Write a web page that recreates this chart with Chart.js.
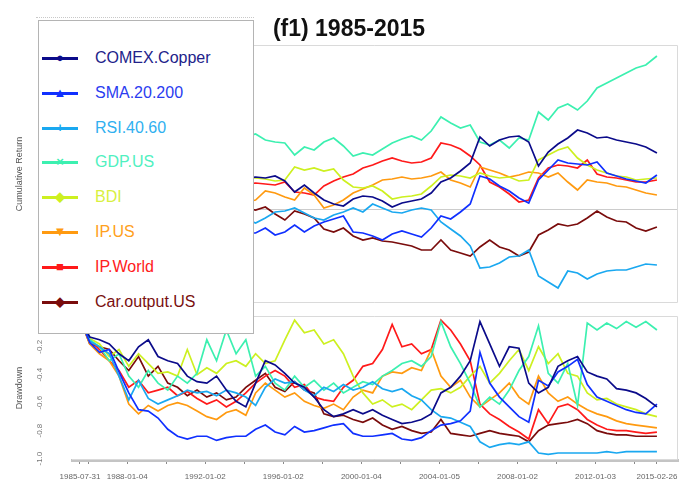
<!DOCTYPE html>
<html>
<head>
<meta charset="utf-8">
<script src="https://cdn.jsdelivr.net/npm/chart.js@4.4.1/dist/chart.umd.min.js"></script>
<style>
  body { margin: 0; background: #fff; font-family: "Liberation Sans", Arial, sans-serif; }
  #wrap { position: relative; width: 694px; height: 485px; overflow: hidden; }
  canvas { position: absolute; left: 0; }
  #title { position: absolute; left: 0; width: 698px; top: 15px; line-height: 26px; text-align: center;
           font-weight: bold; font-size: 23px; color: #111; }
  #dots { position: absolute; left: 36px; top: 17px; width: 218px; border-top: 1px dotted #c8c8c8; }
  #legend { position: absolute; left: 38px; top: 20px; width: 214px; height: 312px;
            border: 1px solid #b4b4b4; background: #fff; }
  .item { position: absolute; left: 0; width: 100%; height: 20px; }
  .ln { position: absolute; left: 3px; top: 9px; width: 36px; height: 3px; }
  .mk { position: absolute; left: 11px; width: 20px; top: 0; line-height: 20px; text-align: center;
        font-size: 13px; font-weight: bold; }
  .tx { position: absolute; left: 56px; top: 0; line-height: 20px; font-size: 16px; }
</style>
</head>
<body>
<div id="wrap">
  <canvas id="topChart" width="694" height="310" style="top:0"></canvas>
  <canvas id="ddChart" width="694" height="175" style="top:310px"></canvas>
  <div id="title">(f1) 1985-2015</div>
  <div id="dots"></div>
  <div id="legend"></div>
</div>
<script>
// half-year steps, decimal years
const dates = [1985.58, 1986.08, 1986.58, 1987.08, 1987.58, 1988.08, 1988.58, 1989.08, 1989.58, 1990.08,
  1990.58, 1991.08, 1991.58, 1992.08, 1992.58, 1993.08, 1993.58, 1994.08, 1994.58, 1995.08,
  1995.58, 1996.08, 1996.58, 1997.08, 1997.58, 1998.08, 1998.58, 1999.08, 1999.58, 2000.08,
  2000.58, 2001.08, 2001.58, 2002.08, 2002.58, 2003.08, 2003.58, 2004.08, 2004.58, 2005.08,
  2005.58, 2006.08, 2006.58, 2007.08, 2007.58, 2008.08, 2008.58, 2009.08, 2009.58, 2010.08,
  2010.58, 2011.08, 2011.58, 2012.08, 2012.58, 2013.08, 2013.58, 2014.08, 2014.58, 2015.15];

const seriesNames = ['COMEX.Copper', 'SMA.20.200', 'RSI.40.60', 'GDP.US', 'BDI', 'IP.US', 'IP.World', 'Car.output.US'];
const lineColors = ['#0b0b8a', '#1030ff', '#1aa8f0', '#3cf0b0', '#cdf020', '#ff9a10', '#ff1a1a', '#7a0c0c'];
const textColors = ['#22228a', '#2a3cf0', '#30b0f0', '#50f0c0', '#d8f040', '#ffa020', '#ff2020', '#7a1010'];
const markers = ['\u25CF', '\u25B2', '+', '\u00D7', '\u25C6', '\u25BC', '\u25A0', '\u25C6'];

// cumulative return
const cumCopper = [0, 0.05, 0.12, 0.08, 0.15, 0.20, 0.18, 0.25, 0.22, 0.30, 0.28, 0.35, 0.30, 0.26, 0.32, 0.29, 0.34, 0.31,
  0.32, 0.31, 0.33, 0.28, 0.17, 0.24, 0.16, 0.09, 0.05, 0.03, 0.10, 0.13, 0.12, 0.08, 0.02, 0.06, 0.08, 0.10, 0.16, 0.27, 0.31, 0.38, 0.46,
  0.72, 0.63, 0.69, 0.72, 0.73, 0.67, 0.43, 0.57, 0.65, 0.71, 0.79, 0.76, 0.71, 0.72, 0.69, 0.67, 0.65, 0.62, 0.56];
const cumSma = [0, -0.04, -0.08, -0.12, -0.10, -0.15, -0.20, -0.18, -0.22, -0.25, -0.21, -0.26, -0.23, -0.27, -0.22, -0.25, -0.20, -0.24,
  -0.24, -0.19, -0.26, -0.23, -0.16, -0.23, -0.17, -0.13, -0.10, -0.07, -0.23, -0.24, -0.27, -0.31, -0.25, -0.22, -0.25, -0.28, -0.19, -0.07, -0.10, -0.03, 0.05,
  0.33, 0.30, 0.23, 0.18, 0.11, 0.06, 0.29, 0.39, 0.49, 0.46, 0.45, 0.44, 0.47, 0.36, 0.33, 0.30, 0.28, 0.26, 0.34];
const cumRsi = [0, 0.03, -0.02, 0.05, 0.02, -0.03, 0.04, 0.01, -0.04, -0.01, 0.03, -0.05, -0.02, -0.06, -0.03, -0.08, -0.05, -0.10,
  -0.14, -0.09, -0.03, -0.02, 0.01, -0.04, -0.09, -0.11, -0.06, -0.03, 0.01, -0.03, 0.05, 0.01, -0.03, -0.04, -0.01, 0.01, -0.01, -0.13, -0.20, -0.27, -0.37,
  -0.59, -0.58, -0.54, -0.48, -0.47, -0.41, -0.67, -0.73, -0.79, -0.62, -0.64, -0.70, -0.65, -0.62, -0.61, -0.61, -0.58, -0.55, -0.56];
const cumGdp = [0, 0.05, 0.10, 0.12, 0.18, 0.22, 0.28, 0.30, 0.35, 0.40, 0.42, 0.48, 0.52, 0.55, 0.60, 0.63, 0.68, 0.72,
  0.75, 0.69, 0.67, 0.66, 0.54, 0.62, 0.59, 0.67, 0.71, 0.63, 0.53, 0.56, 0.54, 0.60, 0.66, 0.70, 0.73, 0.69, 0.78, 0.92, 0.86, 0.81, 0.84,
  0.67, 0.64, 0.69, 0.61, 0.71, 0.69, 0.97, 0.89, 1.01, 1.05, 0.99, 1.08, 1.21, 1.26, 1.31, 1.36, 1.41, 1.44, 1.53];
const cumBdi = [0, 0.06, 0.02, 0.10, 0.15, 0.08, 0.12, 0.20, 0.16, 0.22, 0.18, 0.25, 0.21, 0.27, 0.24, 0.30, 0.26, 0.31,
  0.31, 0.30, 0.28, 0.29, 0.42, 0.39, 0.41, 0.38, 0.40, 0.29, 0.22, 0.21, 0.23, 0.18, 0.10, 0.12, 0.13, 0.15, 0.23, 0.32, 0.34, 0.33, 0.31,
  0.36, 0.33, 0.31, 0.32, 0.28, 0.29, 0.49, 0.54, 0.59, 0.62, 0.51, 0.44, 0.39, 0.36, 0.33, 0.32, 0.29, 0.30, 0.31];
const cumIpUs = [0, 0.04, 0.10, 0.06, 0.12, 0.09, 0.15, 0.11, 0.05, 0.09, 0.03, 0.07, 0.02, 0.06, 0.01, 0.05, 0.03, 0.07,
  0.09, 0.18, 0.16, 0.12, 0.09, 0.21, 0.14, 0.01, 0.04, 0.09, 0.16, 0.20, 0.24, 0.29, 0.30, 0.32, 0.30, 0.31, 0.33, 0.37, 0.29, 0.26, 0.22,
  0.42, 0.39, 0.36, 0.32, 0.34, 0.37, 0.36, 0.32, 0.36, 0.27, 0.19, 0.29, 0.27, 0.26, 0.23, 0.22, 0.19, 0.16, 0.14];
const cumIpWorld = [0, 0.05, 0.03, 0.09, 0.06, 0.12, 0.10, 0.15, 0.12, 0.18, 0.14, 0.20, 0.17, 0.22, 0.19, 0.24, 0.21, 0.25,
  0.26, 0.25, 0.24, 0.27, 0.17, 0.16, 0.14, 0.23, 0.28, 0.32, 0.35, 0.41, 0.44, 0.48, 0.51, 0.48, 0.46, 0.47, 0.51, 0.66, 0.64, 0.60, 0.53,
  0.44, 0.27, 0.22, 0.15, 0.07, 0.09, 0.31, 0.41, 0.44, 0.43, 0.41, 0.49, 0.35, 0.32, 0.31, 0.29, 0.27, 0.27, 0.29];
const cumCar = [0, 0.03, -0.02, 0.04, 0.01, 0.06, 0.02, -0.01, 0.03, 0.00, 0.04, 0.01, -0.03, 0.02, -0.01, 0.03, 0.00, 0.01,
  -0.01, 0.02, -0.05, -0.11, -0.02, -0.05, -0.09, -0.20, -0.23, -0.19, -0.27, -0.31, -0.29, -0.32, -0.33, -0.35, -0.37, -0.41, -0.41, -0.31, -0.41, -0.44, -0.47,
  -0.38, -0.31, -0.38, -0.41, -0.47, -0.43, -0.26, -0.21, -0.15, -0.17, -0.15, -0.09, -0.02, -0.08, -0.12, -0.13, -0.19, -0.22, -0.18];

// drawdown
const ddCopper = [0, -0.13, -0.15, -0.18, -0.25, -0.30, -0.20, -0.15, -0.27, -0.30,
  -0.32, -0.41, -0.45, -0.46, -0.41, -0.51, -0.59, -0.63, -0.46, -0.30,
  -0.33, -0.39, -0.46, -0.49, -0.56, -0.65, -0.70, -0.68, -0.65, -0.68,
  -0.65, -0.69, -0.72, -0.75, -0.74, -0.72, -0.68, -0.53, -0.49, -0.41,
  -0.30, -0.02, -0.18, -0.34, -0.20, -0.21, -0.46, -0.53, -0.49, -0.34,
  -0.30, -0.27, -0.38, -0.41, -0.43, -0.50, -0.51, -0.53, -0.57, -0.63];
const ddSma = [0, -0.17, -0.24, -0.22, -0.38, -0.53, -0.65, -0.66, -0.71, -0.79,
  -0.84, -0.86, -0.84, -0.84, -0.87, -0.85, -0.84, -0.84, -0.79, -0.76,
  -0.81, -0.83, -0.77, -0.81, -0.80, -0.78, -0.76, -0.75, -0.82, -0.84,
  -0.84, -0.83, -0.82, -0.86, -0.87, -0.85, -0.80, -0.76, -0.75, -0.73,
  -0.66, -0.24, -0.46, -0.56, -0.63, -0.70, -0.74, -0.44, -0.48, -0.38,
  -0.34, -0.29, -0.47, -0.56, -0.59, -0.62, -0.65, -0.67, -0.68, -0.61];
const ddRsi = [0, -0.16, -0.20, -0.25, -0.41, -0.58, -0.44, -0.57, -0.61, -0.58,
  -0.55, -0.51, -0.53, -0.52, -0.55, -0.51, -0.53, -0.56, -0.62, -0.49,
  -0.43, -0.46, -0.45, -0.51, -0.55, -0.49, -0.52, -0.47, -0.51, -0.49,
  -0.45, -0.50, -0.52, -0.50, -0.55, -0.58, -0.65, -0.70, -0.71, -0.74,
  -0.77, -0.88, -0.92, -0.90, -0.89, -0.90, -0.88, -0.96, -0.97, -0.96,
  -0.96, -0.96, -0.96, -0.96, -0.95, -0.96, -0.95, -0.95, -0.95, -0.95];
const ddGdp = [0, -0.15, -0.20, -0.30, -0.25, -0.41, -0.49, -0.37, -0.46, -0.51,
  -0.41, -0.46, -0.39, -0.15, -0.30, -0.08, -0.25, -0.15, -0.41, -0.34,
  -0.46, -0.51, -0.41, -0.49, -0.44, -0.51, -0.46, -0.53, -0.49, -0.45,
  -0.47, -0.41, -0.37, -0.32, -0.30, -0.34, -0.27, -0.02, -0.20, -0.32,
  -0.46, -0.63, -0.56, -0.61, -0.51, -0.37, -0.27, -0.05, -0.39, -0.46,
  -0.32, -0.62, -0.03, -0.08, -0.03, -0.07, -0.02, -0.06, -0.02, -0.08];
const ddBdi = [0, -0.14, -0.18, -0.27, -0.22, -0.34, -0.25, -0.32, -0.39, -0.38,
  -0.41, -0.22, -0.40, -0.35, -0.39, -0.32, -0.30, -0.34, -0.25, -0.32,
  -0.30, -0.15, -0.01, -0.10, -0.08, -0.18, -0.15, -0.25, -0.41, -0.53,
  -0.61, -0.58, -0.63, -0.61, -0.65, -0.58, -0.51, -0.50, -0.53, -0.49,
  -0.41, -0.34, -0.46, -0.39, -0.30, -0.22, -0.37, -0.20, -0.32, -0.25,
  -0.39, -0.41, -0.53, -0.58, -0.57, -0.61, -0.63, -0.65, -0.68, -0.70];
const ddIpUs = [0, -0.18, -0.25, -0.30, -0.41, -0.61, -0.68, -0.62, -0.66, -0.62,
  -0.60, -0.62, -0.66, -0.70, -0.72, -0.67, -0.65, -0.69, -0.53, -0.46,
  -0.51, -0.56, -0.53, -0.59, -0.62, -0.64, -0.61, -0.65, -0.56, -0.51,
  -0.53, -0.41, -0.38, -0.39, -0.35, -0.37, -0.22, -0.41, -0.49, -0.44,
  -0.56, -0.63, -0.58, -0.53, -0.46, -0.56, -0.61, -0.41, -0.53, -0.59,
  -0.56, -0.61, -0.65, -0.68, -0.70, -0.73, -0.75, -0.76, -0.77, -0.78];
const ddIpWorld = [0, -0.15, -0.22, -0.30, -0.37, -0.49, -0.44, -0.53, -0.51, -0.49,
  -0.55, -0.52, -0.57, -0.61, -0.58, -0.63, -0.59, -0.53, -0.46, -0.41,
  -0.37, -0.41, -0.49, -0.47, -0.56, -0.58, -0.59, -0.49, -0.44, -0.34,
  -0.32, -0.22, -0.04, -0.20, -0.18, -0.25, -0.22, -0.01, -0.08, -0.18,
  -0.30, -0.61, -0.68, -0.72, -0.77, -0.81, -0.86, -0.65, -0.75, -0.63,
  -0.61, -0.65, -0.72, -0.76, -0.79, -0.80, -0.80, -0.81, -0.82, -0.81];
const ddCar = [0, -0.18, -0.20, -0.22, -0.30, -0.37, -0.27, -0.41, -0.34, -0.46,
  -0.49, -0.55, -0.51, -0.56, -0.53, -0.58, -0.56, -0.49, -0.44, -0.39,
  -0.49, -0.52, -0.45, -0.51, -0.53, -0.68, -0.70, -0.69, -0.72, -0.74,
  -0.71, -0.76, -0.79, -0.77, -0.80, -0.82, -0.81, -0.72, -0.82, -0.83,
  -0.84, -0.82, -0.80, -0.82, -0.83, -0.84, -0.88, -0.80, -0.76, -0.75,
  -0.74, -0.72, -0.75, -0.80, -0.82, -0.83, -0.83, -0.84, -0.84, -0.84];

const cumSeries = [cumCopper, cumSma, cumRsi, cumGdp, cumBdi, cumIpUs, cumIpWorld, cumCar];
const ddSeries = [ddCopper, ddSma, ddRsi, ddGdp, ddBdi, ddIpUs, ddIpWorld, ddCar];

// x axis ticks (every two years) and the dated labels
const xTickVals = [1985.58, 1986, 1988, 1990, 1992, 1994, 1996, 1998, 2000, 2002, 2004, 2006, 2008, 2010, 2012, 2014, 2015.15];
const xLabelVals = [1985.58, 1988, 1992, 1996, 2000, 2004, 2008, 2012, 2015.15];
const xLabelTexts = ['1985-07-31', '1988-01-04', '1992-01-02', '1996-01-02', '2000-01-04', '2004-01-05', '2008-01-02', '2012-01-03', '2015-02-26'];
const ddTickVals = [-0.2, -0.4, -0.6, -0.8, -1.0];
const ddTickTexts = ['-0.2', '-0.4', '-0.6', '-0.8', '-1.0'];

const xMin = 1985.17, xMax = 2016.23;

function makeSets(list) {
  return list.map((vals, k) => ({
    label: seriesNames[k],
    data: vals.map((v, i) => ({ x: dates[i], y: v })),
    borderColor: lineColors[k],
    borderWidth: 1.7,
    pointRadius: 0,
    tension: 0,
    fill: false
  }));
}

// light panel frame: top, right and bottom edges
const framePlugin = {
  id: 'frame',
  beforeDatasetsDraw(chart) {
    const a = chart.chartArea, ctx = chart.ctx;
    ctx.save();
    ctx.strokeStyle = '#dadada';
    ctx.lineWidth = 1;
    ctx.beginPath();
    ctx.moveTo(a.left, a.top + 0.5);
    ctx.lineTo(a.right - 0.5, a.top + 0.5);
    ctx.lineTo(a.right - 0.5, a.bottom - 0.5);
    ctx.lineTo(a.left, a.bottom - 0.5);
    ctx.stroke();
    ctx.restore();
  }
};

// rotated tick labels of the drawdown axis
const ddLabelPlugin = {
  id: 'ddLabels',
  afterDraw(chart) {
    const ys = chart.scales.y, ctx = chart.ctx;
    ctx.save();
    ctx.fillStyle = '#777';
    ctx.font = '8px "Liberation Sans", Arial, sans-serif';
    ctx.textAlign = 'center';
    ctx.textBaseline = 'middle';
    ddTickVals.forEach((v, i) => {
      ctx.save();
      ctx.translate(40, ys.getPixelForValue(v));
      ctx.rotate(-Math.PI / 2);
      ctx.fillText(ddTickTexts[i], 0, 0);
      ctx.restore();
    });
    ctx.restore();
  }
};

const axisTitle = (txt) => ({
  display: true, text: txt, color: '#555',
  font: { size: 9, family: '"Liberation Sans", Arial, sans-serif' },
  padding: { top: 14, bottom: 0 }
});

new Chart(document.getElementById('topChart'), {
  type: 'line',
  data: { datasets: makeSets(cumSeries) },
  options: {
    responsive: false,
    animation: false,
    layout: { padding: { left: 0, right: 16, top: 45, bottom: 7 } },
    plugins: { legend: { display: false }, tooltip: { enabled: false } },
    scales: {
      x: { type: 'linear', min: xMin, max: xMax, display: false },
      y: {
        min: -0.94, max: 1.64,
        afterFit(s) { s.width = 72; },
        afterBuildTicks(s) { s.ticks = [{ value: 0 }]; },
        ticks: { display: false },
        grid: { color: '#cccccc', drawTicks: false },
        border: { display: false },
        title: axisTitle('Cumulative Return')
      }
    }
  },
  plugins: [framePlugin]
});

new Chart(document.getElementById('ddChart'), {
  type: 'line',
  data: { datasets: makeSets(ddSeries) },
  options: {
    responsive: false,
    animation: false,
    layout: { padding: { left: 0, right: 16, top: 6, bottom: 0 } },
    plugins: { legend: { display: false }, tooltip: { enabled: false } },
    scales: {
      x: {
        type: 'linear', min: xMin, max: xMax,
        afterFit(s) { s.height = 25; },
        afterBuildTicks(s) { s.ticks = xTickVals.map(v => ({ value: v })); },
        ticks: {
          autoSkip: false, maxRotation: 0, minRotation: 0, padding: 8,
          color: '#666', font: { size: 8, family: '"Liberation Sans", Arial, sans-serif' },
          callback(v) {
            const k = xLabelVals.indexOf(v);
            return k >= 0 ? xLabelTexts[k] : '';
          }
        },
        grid: { drawOnChartArea: false, drawTicks: true, tickLength: 4, color: '#8a8a8a' },
        border: { display: true, color: '#c4c4c4', width: 3 }
      },
      y: {
        min: -1.01, max: 0.02,
        afterFit(s) { s.width = 72; },
        afterBuildTicks(s) { s.ticks = ddTickVals.map(v => ({ value: v })); },
        ticks: { display: false },
        grid: { display: false },
        border: { display: false },
        title: axisTitle('Drawdown')
      }
    }
  },
  plugins: [framePlugin, ddLabelPlugin]
});

const legend = document.getElementById('legend');
seriesNames.forEach((name, k) => {
  const row = document.createElement('div');
  row.className = 'item';
  row.style.top = (27 + 34.8 * k) + 'px';
  row.innerHTML = '<span class="ln" style="background:' + lineColors[k] + '"></span>' +
    '<span class="mk" style="color:' + lineColors[k] + '">' + markers[k] + '</span>' +
    '<span class="tx" style="color:' + textColors[k] + '">' + name + '</span>';
  legend.appendChild(row);
});
</script>
</body>
</html>
